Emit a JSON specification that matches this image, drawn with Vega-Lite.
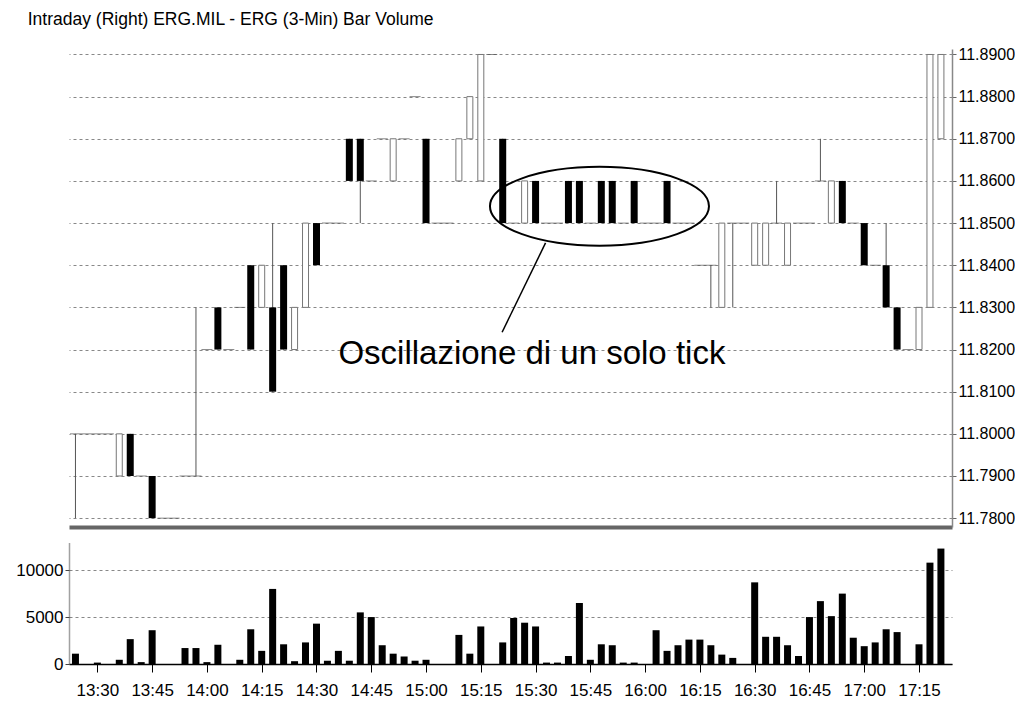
{
  "$schema": "https://vega.github.io/schema/vega-lite/v6.json",
  "padding": {"left": 15, "top": 10, "right": 0, "bottom": 0},
  "background": "white",
  "config": {"view": {"stroke": null}, "font": "Liberation Sans"},
  "title": {"text": "Intraday (Right) ERG.MIL - ERG (3-Min) Bar Volume", "anchor": "start", "fontSize": 17.5, "fontWeight": "normal", "font": "Liberation Sans", "color": "#000", "offset": 18, "dx": 12},
  "datasets": {
    "bars": [
      {"t": "2024-01-05T13:24", "open": 11.80, "high": 11.80, "low": 11.78, "close": 11.80, "volume": 1100},
      {"t": "2024-01-05T13:27", "open": 11.80, "high": 11.80, "low": 11.80, "close": 11.80, "volume": 0},
      {"t": "2024-01-05T13:30", "open": 11.80, "high": 11.80, "low": 11.80, "close": 11.80, "volume": 150},
      {"t": "2024-01-05T13:33", "open": 11.80, "high": 11.80, "low": 11.80, "close": 11.80, "volume": 0},
      {"t": "2024-01-05T13:36", "open": 11.79, "high": 11.80, "low": 11.79, "close": 11.80, "volume": 450},
      {"t": "2024-01-05T13:39", "open": 11.80, "high": 11.80, "low": 11.79, "close": 11.79, "volume": 2650},
      {"t": "2024-01-05T13:42", "open": 11.79, "high": 11.79, "low": 11.79, "close": 11.79, "volume": 200},
      {"t": "2024-01-05T13:45", "open": 11.79, "high": 11.79, "low": 11.78, "close": 11.78, "volume": 3600},
      {"t": "2024-01-05T13:48", "open": 11.78, "high": 11.78, "low": 11.78, "close": 11.78, "volume": 0},
      {"t": "2024-01-05T13:51", "open": 11.78, "high": 11.78, "low": 11.78, "close": 11.78, "volume": 0},
      {"t": "2024-01-05T13:54", "open": 11.79, "high": 11.79, "low": 11.79, "close": 11.79, "volume": 1700},
      {"t": "2024-01-05T13:57", "open": 11.79, "high": 11.83, "low": 11.79, "close": 11.79, "volume": 1700},
      {"t": "2024-01-05T14:00", "open": 11.82, "high": 11.82, "low": 11.82, "close": 11.82, "volume": 200},
      {"t": "2024-01-05T14:03", "open": 11.83, "high": 11.83, "low": 11.82, "close": 11.82, "volume": 2050},
      {"t": "2024-01-05T14:06", "open": 11.82, "high": 11.82, "low": 11.82, "close": 11.82, "volume": 0},
      {"t": "2024-01-05T14:09", "open": 11.83, "high": 11.83, "low": 11.83, "close": 11.83, "volume": 450},
      {"t": "2024-01-05T14:12", "open": 11.84, "high": 11.84, "low": 11.82, "close": 11.82, "volume": 3700},
      {"t": "2024-01-05T14:15", "open": 11.83, "high": 11.84, "low": 11.83, "close": 11.84, "volume": 1400},
      {"t": "2024-01-05T14:18", "open": 11.83, "high": 11.85, "low": 11.81, "close": 11.81, "volume": 8000},
      {"t": "2024-01-05T14:21", "open": 11.84, "high": 11.84, "low": 11.82, "close": 11.82, "volume": 2100},
      {"t": "2024-01-05T14:24", "open": 11.82, "high": 11.83, "low": 11.82, "close": 11.83, "volume": 300},
      {"t": "2024-01-05T14:27", "open": 11.83, "high": 11.85, "low": 11.83, "close": 11.85, "volume": 2300},
      {"t": "2024-01-05T14:30", "open": 11.85, "high": 11.85, "low": 11.84, "close": 11.84, "volume": 4300},
      {"t": "2024-01-05T14:33", "open": 11.85, "high": 11.85, "low": 11.85, "close": 11.85, "volume": 350},
      {"t": "2024-01-05T14:36", "open": 11.85, "high": 11.85, "low": 11.85, "close": 11.85, "volume": 1400},
      {"t": "2024-01-05T14:39", "open": 11.87, "high": 11.87, "low": 11.86, "close": 11.86, "volume": 350},
      {"t": "2024-01-05T14:42", "open": 11.87, "high": 11.87, "low": 11.85, "close": 11.86, "volume": 5500},
      {"t": "2024-01-05T14:45", "open": 11.86, "high": 11.86, "low": 11.86, "close": 11.86, "volume": 5000},
      {"t": "2024-01-05T14:48", "open": 11.87, "high": 11.87, "low": 11.87, "close": 11.87, "volume": 2000},
      {"t": "2024-01-05T14:51", "open": 11.86, "high": 11.87, "low": 11.86, "close": 11.87, "volume": 1100},
      {"t": "2024-01-05T14:54", "open": 11.87, "high": 11.87, "low": 11.87, "close": 11.87, "volume": 800},
      {"t": "2024-01-05T14:57", "open": 11.88, "high": 11.88, "low": 11.88, "close": 11.88, "volume": 350},
      {"t": "2024-01-05T15:00", "open": 11.87, "high": 11.87, "low": 11.85, "close": 11.85, "volume": 450},
      {"t": "2024-01-05T15:03", "open": 11.85, "high": 11.85, "low": 11.85, "close": 11.85, "volume": 0},
      {"t": "2024-01-05T15:06", "open": 11.85, "high": 11.85, "low": 11.85, "close": 11.85, "volume": 0},
      {"t": "2024-01-05T15:09", "open": 11.86, "high": 11.87, "low": 11.86, "close": 11.87, "volume": 3100},
      {"t": "2024-01-05T15:12", "open": 11.87, "high": 11.88, "low": 11.87, "close": 11.88, "volume": 1100},
      {"t": "2024-01-05T15:15", "open": 11.86, "high": 11.89, "low": 11.86, "close": 11.89, "volume": 4000},
      {"t": "2024-01-05T15:18", "open": 11.89, "high": 11.89, "low": 11.89, "close": 11.89, "volume": 0},
      {"t": "2024-01-05T15:21", "open": 11.87, "high": 11.87, "low": 11.85, "close": 11.85, "volume": 2300},
      {"t": "2024-01-05T15:24", "open": 11.85, "high": 11.85, "low": 11.85, "close": 11.85, "volume": 4900},
      {"t": "2024-01-05T15:27", "open": 11.85, "high": 11.86, "low": 11.85, "close": 11.86, "volume": 4400},
      {"t": "2024-01-05T15:30", "open": 11.86, "high": 11.86, "low": 11.85, "close": 11.85, "volume": 4000},
      {"t": "2024-01-05T15:33", "open": 11.85, "high": 11.85, "low": 11.85, "close": 11.85, "volume": 150},
      {"t": "2024-01-05T15:36", "open": 11.85, "high": 11.85, "low": 11.85, "close": 11.85, "volume": 150},
      {"t": "2024-01-05T15:39", "open": 11.86, "high": 11.86, "low": 11.85, "close": 11.85, "volume": 850},
      {"t": "2024-01-05T15:42", "open": 11.86, "high": 11.86, "low": 11.85, "close": 11.85, "volume": 6500},
      {"t": "2024-01-05T15:45", "open": 11.85, "high": 11.85, "low": 11.85, "close": 11.85, "volume": 450},
      {"t": "2024-01-05T15:48", "open": 11.86, "high": 11.86, "low": 11.85, "close": 11.85, "volume": 2100},
      {"t": "2024-01-05T15:51", "open": 11.86, "high": 11.86, "low": 11.85, "close": 11.85, "volume": 2000},
      {"t": "2024-01-05T15:54", "open": 11.85, "high": 11.85, "low": 11.85, "close": 11.85, "volume": 150},
      {"t": "2024-01-05T15:57", "open": 11.86, "high": 11.86, "low": 11.85, "close": 11.85, "volume": 150},
      {"t": "2024-01-05T16:00", "open": 11.85, "high": 11.85, "low": 11.85, "close": 11.85, "volume": 0},
      {"t": "2024-01-05T16:03", "open": 11.85, "high": 11.85, "low": 11.85, "close": 11.85, "volume": 3600},
      {"t": "2024-01-05T16:06", "open": 11.86, "high": 11.86, "low": 11.85, "close": 11.85, "volume": 1400},
      {"t": "2024-01-05T16:09", "open": 11.85, "high": 11.85, "low": 11.85, "close": 11.85, "volume": 2000},
      {"t": "2024-01-05T16:12", "open": 11.85, "high": 11.85, "low": 11.85, "close": 11.85, "volume": 2600},
      {"t": "2024-01-05T16:15", "open": 11.84, "high": 11.84, "low": 11.84, "close": 11.84, "volume": 2600},
      {"t": "2024-01-05T16:18", "open": 11.84, "high": 11.84, "low": 11.83, "close": 11.84, "volume": 2000},
      {"t": "2024-01-05T16:21", "open": 11.83, "high": 11.85, "low": 11.83, "close": 11.85, "volume": 1000},
      {"t": "2024-01-05T16:24", "open": 11.85, "high": 11.85, "low": 11.83, "close": 11.85, "volume": 650},
      {"t": "2024-01-05T16:27", "open": 11.85, "high": 11.85, "low": 11.85, "close": 11.85, "volume": 0},
      {"t": "2024-01-05T16:30", "open": 11.84, "high": 11.85, "low": 11.84, "close": 11.85, "volume": 8700},
      {"t": "2024-01-05T16:33", "open": 11.84, "high": 11.85, "low": 11.84, "close": 11.85, "volume": 2900},
      {"t": "2024-01-05T16:36", "open": 11.85, "high": 11.86, "low": 11.85, "close": 11.85, "volume": 2900},
      {"t": "2024-01-05T16:39", "open": 11.84, "high": 11.85, "low": 11.84, "close": 11.85, "volume": 2000},
      {"t": "2024-01-05T16:42", "open": 11.85, "high": 11.85, "low": 11.85, "close": 11.85, "volume": 850},
      {"t": "2024-01-05T16:45", "open": 11.85, "high": 11.85, "low": 11.85, "close": 11.85, "volume": 5000},
      {"t": "2024-01-05T16:48", "open": 11.86, "high": 11.87, "low": 11.86, "close": 11.86, "volume": 6700},
      {"t": "2024-01-05T16:51", "open": 11.85, "high": 11.86, "low": 11.85, "close": 11.86, "volume": 5100},
      {"t": "2024-01-05T16:54", "open": 11.86, "high": 11.86, "low": 11.85, "close": 11.85, "volume": 7500},
      {"t": "2024-01-05T16:57", "open": 11.85, "high": 11.85, "low": 11.85, "close": 11.85, "volume": 2800},
      {"t": "2024-01-05T17:00", "open": 11.85, "high": 11.85, "low": 11.84, "close": 11.84, "volume": 1900},
      {"t": "2024-01-05T17:03", "open": 11.84, "high": 11.84, "low": 11.84, "close": 11.84, "volume": 2300},
      {"t": "2024-01-05T17:06", "open": 11.84, "high": 11.85, "low": 11.83, "close": 11.83, "volume": 3700},
      {"t": "2024-01-05T17:09", "open": 11.83, "high": 11.83, "low": 11.82, "close": 11.82, "volume": 3400},
      {"t": "2024-01-05T17:12", "open": 11.82, "high": 11.82, "low": 11.82, "close": 11.82, "volume": 0},
      {"t": "2024-01-05T17:15", "open": 11.82, "high": 11.83, "low": 11.82, "close": 11.83, "volume": 2100},
      {"t": "2024-01-05T17:18", "open": 11.83, "high": 11.89, "low": 11.83, "close": 11.89, "volume": 10800},
      {"t": "2024-01-05T17:21", "open": 11.87, "high": 11.89, "low": 11.87, "close": 11.89, "volume": 12300}
    ]
  },
  "vconcat": [
    {
      "width": 883,
      "height": 478,
      "layer": [
        {
          "data": {"name": "bars"},
          "mark": {"type": "rule", "color": "#555", "strokeWidth": 1, "clip": true},
          "encoding": {
            "x": {"field": "t", "type": "temporal",
              "scale": {"domain": [{"year": 2024, "month": 1, "date": 5, "hours": 13, "minutes": 23, "seconds": 36}, {"year": 2024, "month": 1, "date": 5, "hours": 17, "minutes": 22, "seconds": 40}], "nice": false},
              "axis": {"orient": "bottom", "labels": false, "ticks": false, "grid": false, "title": null, "domainColor": "#666", "domainWidth": 4}},
            "y": {"field": "low", "type": "quantitative",
              "scale": {"domain": [11.7779, 11.8913], "nice": false, "zero": false},
              "axis": {"orient": "right", "values": [11.78, 11.79, 11.80, 11.81, 11.82, 11.83, 11.84, 11.85, 11.86, 11.87, 11.88, 11.89], "format": ".4f", "title": null, "labelFontSize": 16, "labelFont": "Liberation Sans", "labelColor": "#000", "tickColor": "#666", "tickSize": 4, "labelPadding": 2, "domainColor": "#888", "domainWidth": 1.5, "grid": true, "gridColor": "#888", "gridDash": [3, 3], "labelOverlap": false}},
            "y2": {"field": "high"}
          }
        },
        {
          "data": {"name": "bars"},
          "transform": [{"filter": "datum.open == datum.close"}],
          "mark": {"type": "tick", "orient": "horizontal", "size": 11, "thickness": 1, "color": "#555", "clip": true},
          "encoding": {
            "x": {"field": "t", "type": "temporal"},
            "y": {"field": "close", "type": "quantitative"}
          }
        },
        {
          "data": {"name": "bars"},
          "transform": [{"filter": "datum.close > datum.open"}],
          "mark": {"type": "bar", "width": 6, "fill": "white", "stroke": "#777", "strokeWidth": 1, "clip": true},
          "encoding": {
            "x": {"field": "t", "type": "temporal"},
            "y": {"field": "open", "type": "quantitative"},
            "y2": {"field": "close"}
          }
        },
        {
          "data": {"name": "bars"},
          "transform": [{"filter": "datum.close < datum.open"}],
          "mark": {"type": "bar", "width": 7, "color": "#000", "clip": true},
          "encoding": {
            "x": {"field": "t", "type": "temporal"},
            "y": {"field": "open", "type": "quantitative"},
            "y2": {"field": "close"}
          }
        },
        {
          "data": {"values": [{"t": "2024-01-05T15:47:30", "p": 11.8540}]},
          "mark": {"type": "point", "shape": "M-1,0A1,0.36,0,0,1,1,0A1,0.36,0,0,1,-1,0Z", "size": 47961, "filled": false, "stroke": "#000", "strokeWidth": 2, "opacity": 1},
          "encoding": {
            "x": {"field": "t", "type": "temporal"},
            "y": {"field": "p", "type": "quantitative"}
          }
        },
        {
          "data": {"values": [{"t": "2024-01-05T15:32:44", "t2": "2024-01-05T15:20:50", "p": 11.8453, "p2": 11.8241}]},
          "mark": {"type": "rule", "color": "#000", "strokeWidth": 1.5},
          "encoding": {
            "x": {"field": "t", "type": "temporal"},
            "x2": {"field": "t2"},
            "y": {"field": "p", "type": "quantitative"},
            "y2": {"field": "p2"}
          }
        },
        {
          "data": {"values": [{"t": "2024-01-05T14:36", "p": 11.8189, "label": "Oscillazione di un solo tick"}]},
          "mark": {"type": "text", "align": "left", "baseline": "middle", "fontSize": 33, "font": "Liberation Sans", "color": "#000"},
          "encoding": {
            "x": {"field": "t", "type": "temporal"},
            "y": {"field": "p", "type": "quantitative"},
            "text": {"field": "label"}
          }
        }
      ]
    },
    {
      "width": 883,
      "height": 122,
      "data": {"name": "bars"},
      "transform": [{"filter": "datum.volume > 0"}],
      "mark": {"type": "bar", "width": 7, "color": "#000", "clip": true},
      "encoding": {
        "x": {"field": "t", "type": "temporal",
          "scale": {"domain": [{"year": 2024, "month": 1, "date": 5, "hours": 13, "minutes": 23, "seconds": 36}, {"year": 2024, "month": 1, "date": 5, "hours": 17, "minutes": 22, "seconds": 40}], "nice": false},
          "axis": {"values": [
            {"year": 2024, "month": 1, "date": 5, "hours": 13, "minutes": 30},
            {"year": 2024, "month": 1, "date": 5, "hours": 13, "minutes": 45},
            {"year": 2024, "month": 1, "date": 5, "hours": 14, "minutes": 0},
            {"year": 2024, "month": 1, "date": 5, "hours": 14, "minutes": 15},
            {"year": 2024, "month": 1, "date": 5, "hours": 14, "minutes": 30},
            {"year": 2024, "month": 1, "date": 5, "hours": 14, "minutes": 45},
            {"year": 2024, "month": 1, "date": 5, "hours": 15, "minutes": 0},
            {"year": 2024, "month": 1, "date": 5, "hours": 15, "minutes": 15},
            {"year": 2024, "month": 1, "date": 5, "hours": 15, "minutes": 30},
            {"year": 2024, "month": 1, "date": 5, "hours": 15, "minutes": 45},
            {"year": 2024, "month": 1, "date": 5, "hours": 16, "minutes": 0},
            {"year": 2024, "month": 1, "date": 5, "hours": 16, "minutes": 15},
            {"year": 2024, "month": 1, "date": 5, "hours": 16, "minutes": 30},
            {"year": 2024, "month": 1, "date": 5, "hours": 16, "minutes": 45},
            {"year": 2024, "month": 1, "date": 5, "hours": 17, "minutes": 0},
            {"year": 2024, "month": 1, "date": 5, "hours": 17, "minutes": 15}
          ], "format": "%H:%M", "title": null, "labelFontSize": 17, "labelFont": "Liberation Sans", "labelColor": "#000", "tickColor": "#000", "tickSize": 8, "labelPadding": 10, "labelOffset": 0, "labelFlush": false, "labelOverlap": false, "domainColor": "#000", "domainWidth": 1.5, "grid": false}},
        "y": {"field": "volume", "type": "quantitative",
          "scale": {"domain": [0, 13000], "nice": false},
          "axis": {"values": [0, 5000, 10000], "format": "d", "title": null, "labelFontSize": 17, "labelFont": "Liberation Sans", "labelColor": "#000", "tickColor": "#444", "tickSize": 4, "labelPadding": 2, "domainColor": "#444", "domainDash": [1, 1], "domainWidth": 1.5, "grid": true, "gridColor": "#888", "gridDash": [3, 3]}}
      }
    }
  ],
  "spacing": 15,
  "bounds": "flush",
  "resolve": {"scale": {"x": "independent", "y": "independent"}}
}
